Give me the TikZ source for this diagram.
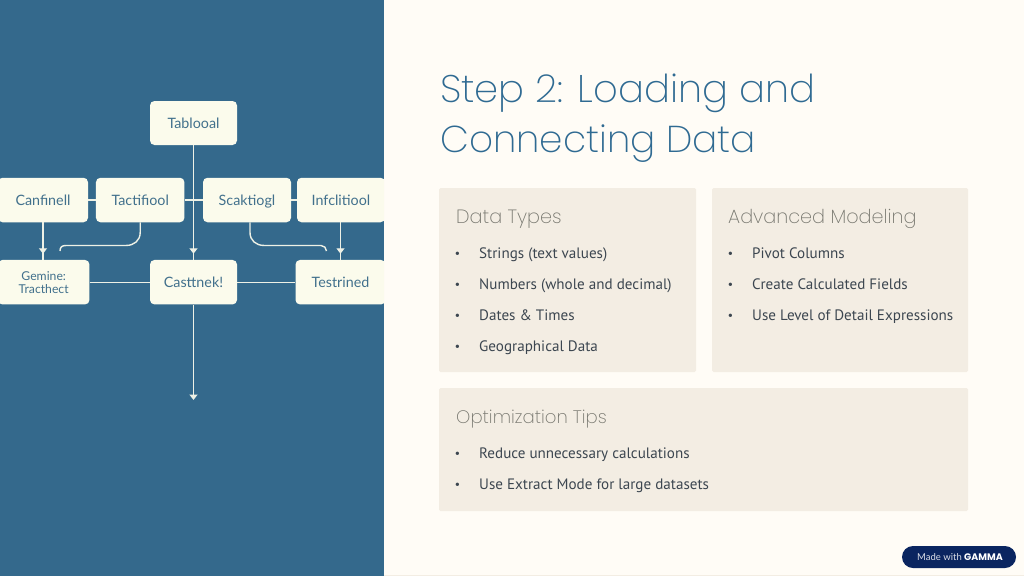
\documentclass[tikz,border=0pt]{standalone}
\usepackage{fontspec}
\usetikzlibrary{arrows.meta,decorations.markings}
\setmainfont{Lato}
\newfontfamily\titlefont{Poppins ExtraLight}
\newfontfamily\bodyfont{PT Sans}
\newfontfamily\flowfont{Lato}
\newfontfamily\badgefont{Poppins}
\definecolor{panelblue}{HTML}{34698C}
\definecolor{nodefill}{HTML}{FBFBEC}
\definecolor{linecol}{HTML}{EEF1E6}
\definecolor{flowtext}{HTML}{41708C}
\definecolor{pagebg}{HTML}{FFFCF6}
\definecolor{cardbg}{HTML}{F3EDE3}
\definecolor{titleblue}{HTML}{2F6A92}
\definecolor{cardtitle}{HTML}{77776F}
\definecolor{bodytext}{HTML}{3C4650}
\definecolor{badgeblue}{HTML}{0A2560}
\tikzset{
  flow/.style={draw=none,fill=nodefill,rounded corners=4.5pt,inner sep=0pt,align=center,
    text=flowtext,font=\flowfont\fontsize{14.3}{15}\selectfont,text height=10pt,text depth=0pt},
  link/.style={draw=linecol,line width=1.4pt},
  midtip/.style={link,postaction={decorate},decoration={markings,
    mark=at position -6pt with {\arrow[linecol]{Triangle[width=8pt,length=5.5pt]}}}},
  endtip/.style={link,-{Triangle[width=8pt,length=5.5pt,color=linecol]}},
  card/.style={fill=cardbg,draw=none,rounded corners=1.5pt},
  heading/.style={anchor=base west,inner sep=0pt,text=cardtitle,font=\titlefont\fontsize{19.2}{24}\selectfont},
  item/.style={anchor=base west,inner sep=0pt,text=bodytext,font=\bodyfont\fontsize{15.1}{18}\selectfont},
  dot/.style={anchor=base,inner sep=0pt,text=bodytext,font=\flowfont\fontsize{9}{10}\selectfont},
  bigtitle/.style={anchor=base west,inner sep=0pt,text=titleblue,font=\titlefont\fontsize{38.5}{48}\selectfont},
}
\begin{document}
\begin{tikzpicture}[x=1pt,y=-1pt]
\useasboundingbox (0,0) rectangle (1024,576);
\fill[pagebg] (0,0) rectangle (1024,576);
\draw[cardbg,line width=0.8pt] (384,575) -- (1024,575);
\fill[panelblue] (0,0) rectangle (384,576);
\begin{scope}
\clip (0,0) rectangle (384,576);
\node[flow,minimum width=87pt,minimum height=44pt] (tab) at (193.5,123) {Tablooal};
\node[flow,minimum width=90pt,minimum height=44.5pt] (can) at (43,200) {Canfinell};
\node[flow,minimum width=88.5pt,minimum height=44.5pt] (tac) at (140.2,200) {Tactifiool};
\node[flow,minimum width=88pt,minimum height=44.5pt] (sca) at (247,200) {Scaktiogl};
\node[flow,minimum width=88pt,minimum height=44.5pt] (inf) at (341,200) {Infclitiool};
\node[flow,minimum width=91.5pt,minimum height=44.5pt,font=\flowfont\fontsize{12.2}{13.2}\selectfont,text height=22pt] (gem) at (43.7,282.2) {Gemine:\\Tracthect};
\node[flow,minimum width=87pt,minimum height=44.5pt] (cas) at (193.5,282.2) {Casttnek!};
\node[flow,minimum width=90pt,minimum height=44.5pt] (tes) at (340.5,282.2) {Testrined};
\coordinate (endc) at (193.5,400);
\coordinate (leftend) at (60,251);
\coordinate (rightend) at (326.5,251);
\draw[link] (can) -- (tac);
\draw[link] (tac) -- (sca);
\draw[link] (sca) -- (inf);
\draw[link] (gem) -- (cas);
\draw[link] (cas) -- (tes);
\draw[midtip] (tab.south) -- (cas.north);
\draw[midtip] (can.south) -- (can.south |- gem.north);
\draw[midtip] (tes.north |- inf.south) -- (tes.north);
\draw[endtip] (cas.south) -- (endc);
\draw[link] (tac.south) -- ++(0,10) .. controls +(0,8) and +(8,0) .. ++(-14,13) -- (66,245.5) .. controls (62,245.5) and (60,247) .. (leftend);
\draw[link] ([xshift=3pt]sca.south) -- ++(0,10) .. controls +(0,8) and +(-8,0) .. ++(14,13) -- (321,245.5) .. controls (324,245.5) and (326.5,248) .. (rightend);
\end{scope}
\node[bigtitle] (t1) at (440,102) {Step 2: Loading and};
\node[bigtitle,font=\titlefont\fontsize{37.4}{48}\selectfont] (t2) at (440,152) {Connecting Data};
\fill[card] (439,188) rectangle (696,372);
\fill[card] (712,188) rectangle (968,372);
\fill[card] (439,388) rectangle (968,511);
\node[heading] (h1) at (456,223) {Data Types};
\node[heading] (h2) at (728,223) {Advanced Modeling};
\node[heading,font=\titlefont\fontsize{18.1}{24}\selectfont] (h3) at (456,423) {Optimization Tips};
\foreach \n/\x/\y/\s in {
  a/479/258/{Strings (text values)},
  b/479/289/{Numbers (whole and decimal)},
  c/479/320/{Dates \& Times},
  d/479/351/{Geographical Data},
  e/752/258/{Pivot Columns},
  f/752/289/{Create Calculated Fields},
  g/752/320/{Use Level of Detail Expressions},
  i/479/458/{Reduce unnecessary calculations},
  j/479/489/{Use Extract Mode for large datasets}}{
  \node[item] (it\n) at (\x,\y) {\s};
  \node[dot] (bu\n) at (\x-21.5,\y-2) {•};
}
\node[fill=badgeblue,rounded corners=11pt,minimum width=114pt,minimum height=22pt,inner sep=0pt] (badge) at (959,557) {};
\node[anchor=base west,inner sep=0pt,text=white!85!badgeblue,font=\flowfont\fontsize{9.5}{10}\selectfont] (made) at (917,560.5) {Made with};
\node[anchor=base west,inner sep=0pt,text=white,font=\badgefont\bfseries\fontsize{9.5}{10}\selectfont] (gam) at (964,560.5) {GAMMA};
\end{tikzpicture}
\end{document}
